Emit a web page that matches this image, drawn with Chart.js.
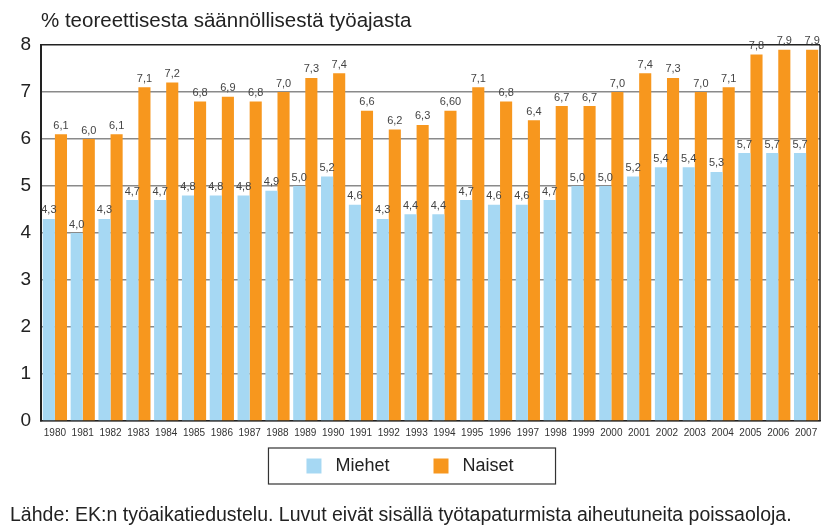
<!DOCTYPE html>
<html>
<head>
<meta charset="utf-8">
<script src="https://cdn.jsdelivr.net/npm/chart.js@4.4.1/dist/chart.umd.min.js"></script>
<style>
  html, body { margin: 0; padding: 0; background: #fff; }
  #wrap { position: relative; width: 827px; height: 526px; font-family: "Liberation Sans", Arial, sans-serif; }
  #title { position: absolute; left: 41px; top: 9.5px; font-size: 20.5px; line-height: 1; color: #222; white-space: nowrap; }
  #footer { position: absolute; left: 10px; top: 505px; font-size: 19.5px; line-height: 1; color: #222; white-space: nowrap; }
  canvas { position: absolute; left: 0; top: 0; }
</style>
</head>
<body>
<div id="wrap">
  <canvas id="c" width="827" height="526"></canvas>
  <div id="title">% teoreettisesta säännöllisestä työajasta</div>
  <div id="footer">Lähde: EK:n työaikatiedustelu. Luvut eivät sisällä työtapaturmista aiheutuneita poissaoloja.</div>
</div>
<script>
const years = ["1980","1981","1982","1983","1984","1985","1986","1987","1988","1989","1990","1991","1992","1993","1994","1995","1996","1997","1998","1999","2000","2001","2002","2003","2004","2005","2006","2007"];
const miehet = [4.3,4.0,4.3,4.7,4.7,4.8,4.8,4.8,4.9,5.0,5.2,4.6,4.3,4.4,4.4,4.7,4.6,4.6,4.7,5.0,5.0,5.2,5.4,5.4,5.3,5.7,5.7,5.7];
const naiset = [6.1,6.0,6.1,7.1,7.2,6.8,6.9,6.8,7.0,7.3,7.4,6.6,6.2,6.3,6.6,7.1,6.8,6.4,6.7,6.7,7.0,7.4,7.3,7.0,7.1,7.8,7.9,7.9];
const naisetLabelOverride = { 14: "6,60" };
const yTicks = [0,1,2,3,4,5,6,7,8];

const fmt = v => v.toFixed(1).replace('.', ',');

const valueLabels = {
  id: 'valueLabels',
  afterDatasetsDraw(chart) {
    const ctx = chart.ctx;
    ctx.save();
    ctx.font = '11px "Liberation Sans", Arial, sans-serif';
    ctx.fillStyle = '#444';
    ctx.textAlign = 'center';
    ctx.textBaseline = 'bottom';
    chart.data.datasets.forEach((ds, di) => {
      const meta = chart.getDatasetMeta(di);
      meta.data.forEach((bar, i) => {
        let txt = fmt(ds.data[i]);
        if (di === 1 && naisetLabelOverride[i]) txt = naisetLabelOverride[i];
        ctx.fillText(txt, bar.x, bar.y - 3);
      });
    });
    ctx.restore();
  }
};

const frame = {
  id: 'frame',
  afterDraw(chart) {
    const a = chart.chartArea, ctx = chart.ctx;
    ctx.save();
    ctx.strokeStyle = '#222';
    ctx.lineWidth = 1.5;
    ctx.beginPath();
    ctx.moveTo(a.right, a.top);
    ctx.lineTo(a.right, a.bottom);
    ctx.stroke();
    const lg = chart.legend;
    if (lg && lg.legendHitBoxes && lg.legendHitBoxes.length) {
      let minX = Infinity, maxX = -Infinity, minY = Infinity, maxY = -Infinity;
      lg.legendHitBoxes.forEach(h => {
        minX = Math.min(minX, h.left); maxX = Math.max(maxX, h.left + h.width);
        minY = Math.min(minY, h.top); maxY = Math.max(maxY, h.top + h.height);
      });
      ctx.strokeStyle = '#333';
      ctx.lineWidth = 1.2;
      ctx.strokeRect(minX - 38, minY - 9, (maxX - minX) + 38 + 42, (maxY - minY) + 18);
    }
    ctx.restore();
  }
};

new Chart(document.getElementById('c'), {
  type: 'bar',
  data: {
    labels: years,
    datasets: [
      { label: 'Miehet', data: miehet, backgroundColor: '#a6d8f3', borderWidth: 0 },
      { label: 'Naiset', data: naiset, backgroundColor: '#f7971e', borderWidth: 0 }
    ]
  },
  options: {
    responsive: false,
    animation: false,
    layout: { padding: { top: 45, right: 7, bottom: 41, left: 0 } },
    datasets: { bar: { categoryPercentage: 0.87, barPercentage: 1.0 } },
    plugins: {
      legend: {
        position: 'bottom',
        labels: {
          font: { size: 18, family: '"Liberation Sans", Arial, sans-serif' },
          color: '#222',
          boxWidth: 15, boxHeight: 15,
          padding: 14,
          generateLabels(chart) {
            const items = Chart.defaults.plugins.legend.labels.generateLabels(chart);
            items.forEach((it, i) => { it.text = ' ' + it.text + (i === 0 ? '      ' : ''); });
            return items;
          }
        }
      },
      tooltip: { enabled: false }
    },
    scales: {
      x: {
        grid: { display: false, drawTicks: false },
        border: { display: true, color: '#222', width: 1.5 },
        ticks: {
          font: { size: 10, family: '"Liberation Sans", Arial, sans-serif' },
          color: '#333', maxRotation: 0, minRotation: 0, autoSkip: false, padding: 6
        },
        afterFit(s) { s.height = 22; }
      },
      y: {
        min: 0, max: 8,
        afterBuildTicks(s) { s.ticks = yTicks.map(v => ({ value: v })); },
        grid: {
          color: ctx => ctx.tick && ctx.tick.value === 8 ? '#222' : '#8a8a8a',
          lineWidth: 1.5,
          drawTicks: false
        },
        border: { display: true, color: '#222', width: 2 },
        ticks: {
          font: { size: 19, family: '"Liberation Sans", Arial, sans-serif' },
          color: '#222', padding: 10
        },
        afterFit(s) { s.width = 41; }
      }
    }
  },
  plugins: [valueLabels, frame]
});
</script>
</body>
</html>
